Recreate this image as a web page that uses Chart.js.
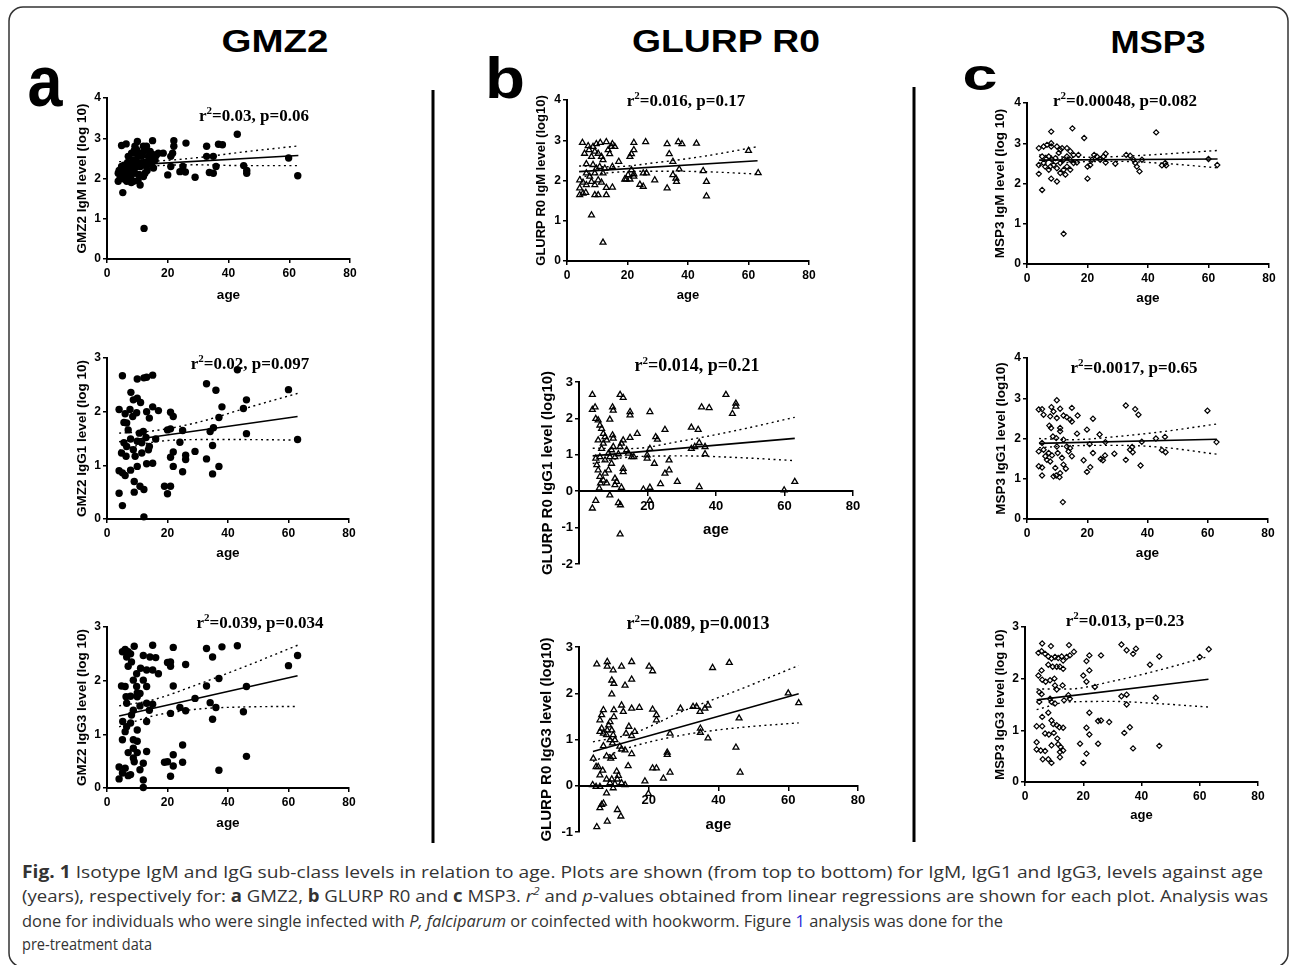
<!DOCTYPE html>
<html>
<head>
<meta charset="utf-8">
<script src="https://cdn.jsdelivr.net/npm/chart.js@4.4.1/dist/chart.umd.min.js"></script>
<style>
	body { margin: 0; background: #fff; width: 1292px; height: 965px; position: relative; overflow: hidden; }
	canvas { position: absolute; }
	svg { position: absolute; left: 0; top: 0; }
	.cap { font-family: 'Open Sans', sans-serif; font-size: 17px; fill: #333; }
</style>
</head>
<body>
<svg width="1292" height="965">
	<rect x="9" y="7" width="1279" height="960" rx="14" fill="none" stroke="#333" stroke-width="1.5"/>
	<g font-family="Liberation Sans, Arial, sans-serif" font-weight="bold" fill="#000" text-anchor="middle">
		<text x="275" y="52" font-size="31" textLength="107" lengthAdjust="spacingAndGlyphs">GMZ2</text>
		<text x="726" y="52" font-size="31" textLength="188" lengthAdjust="spacingAndGlyphs">GLURP R0</text>
		<text x="1158" y="53" font-size="31" textLength="95" lengthAdjust="spacingAndGlyphs">MSP3</text>
		<text x="45" y="106" font-size="72" textLength="35" lengthAdjust="spacingAndGlyphs">a</text>
		<text x="505" y="98" font-size="57" textLength="40" lengthAdjust="spacingAndGlyphs">b</text>
		<text x="980" y="90" font-size="44" textLength="35" lengthAdjust="spacingAndGlyphs">c</text>
	</g>
	<rect x="431.5" y="90" width="3" height="753" fill="#000"/>
	<rect x="912.5" y="87" width="3" height="755" fill="#000"/>
	<text class="cap" x="22" y="878" textLength="1241" lengthAdjust="spacingAndGlyphs"><tspan font-weight="bold">Fig. 1</tspan> Isotype IgM and IgG sub-class levels in relation to age. Plots are shown (from top to bottom) for IgM, IgG1 and IgG3, levels against age</text>
	<text class="cap" x="22" y="902" textLength="1246" lengthAdjust="spacingAndGlyphs">(years), respectively for: <tspan font-weight="bold">a</tspan> GMZ2, <tspan font-weight="bold">b</tspan> GLURP R0 and <tspan font-weight="bold">c</tspan> MSP3. <tspan font-style="italic">r</tspan><tspan font-style="italic" font-size="11" dy="-7">2</tspan><tspan dy="7"> and </tspan><tspan font-style="italic">p</tspan>-values obtained from linear regressions are shown for each plot. Analysis was</text>
	<text class="cap" x="22" y="927" textLength="981" lengthAdjust="spacingAndGlyphs">done for individuals who were single infected with <tspan font-style="italic">P, falciparum</tspan> or coinfected with hookworm. Figure <tspan fill="#2b2bd8">1</tspan> analysis was done for the</text>
	<text class="cap" x="22" y="950" textLength="130" lengthAdjust="spacingAndGlyphs">pre-treatment data</text>
</svg>
<script>
const xTicks = [0, 20, 40, 60, 80];
const fitAges = [4, 63];
const bandAges = [4, 15, 30, 45, 63];

// a: GMZ2
const gmz2IgM = [[5.2,1.65],[12.2,0.76],[4.8,2.82],[6.3,2.86],[10,2.92],[15,2.94],[22,2.94],[22,2.8],[26,2.88],[32.8,2.8],[42.9,3.1],[36.7,2.85],[38,2.84],[32.8,2.55],[35,2.55],[35.9,2.3],[35,2.13],[33.7,2.15],[45,2.32],[46,2.13],[46,2.2],[59.8,2.51],[62.8,2.07],[29,2.03],[20,2.09],[24,2.17],[25.8,2.16],[25,2.3],[21,2.3],[21,2.55],[21.6,2.63],[18.5,2.63],[16.9,2.63],[3.7,2.13],[3.7,1.93],[4.3,2.0],[5.6,2.2],[5.6,2.33],[7,2.05],[7.6,2.3],[8.1,2.63],[8.7,2.46],[8.7,1.93],[9.2,2.13],[9.8,2.3],[9.8,2.71],[10.9,1.84],[10.9,2.38],[11.4,2.55],[12,2.8],[12.5,2.13],[13,2.3],[13.6,2.55],[14.2,2.67],[14.7,2.38],[15.3,2.26],[15.8,2.46],[9.2,2.8],[10.3,2.55],[8.1,2.13],[6.5,1.93],[4.8,2.3],[13,2.8],[12,2.05],[4.5,2.08],[5,2.25],[6,2.15],[6.8,2.4],[7.2,2.25],[7.8,2.0],[8.3,2.35],[8.8,2.2],[9.5,2.45],[10,2.6],[10.5,2.1],[11,2.3],[11.8,2.65],[12.3,2.4],[13.2,2.2],[13.8,2.45],[14.5,2.55],[9,2.7],[7,2.55],[5.8,1.98],[4,2.2],[12.8,2.7],[15,2.6],[16.2,2.58],[10.2,1.95],[8,1.9]];
const gmz2IgMFit = [2.32, 2.57];
const gmz2IgMUpper = [2.42, 2.43, 2.52, 2.66, 2.81];
const gmz2IgMLower = [2.22, 2.31, 2.34, 2.32, 2.32];

const gmz2IgG1 = [[5.1,2.67],[10,2.61],[12.2,2.63],[13.1,2.64],[15.1,2.68],[32.9,2.52],[36,2.4],[43.1,2.78],[60,2.41],[46.1,2.22],[45.1,2.06],[38,2.09],[37,1.89],[35.2,1.7],[34.1,1.63],[46.1,1.59],[63,1.48],[34.9,1.37],[32.9,1.12],[37,0.98],[34.9,0.84],[29.1,1.26],[26,1.19],[26,1.11],[25,0.88],[21.9,0.98],[21.9,1.25],[21,1.15],[24.1,1.43],[25,1.65],[21,1.68],[20,1.66],[21,1.99],[21.9,1.91],[19,0.61],[20,0.47],[21,0.61],[17,2.02],[16.1,1.49],[15.1,1.04],[15.1,2.09],[12.2,0.04],[12.2,0.55],[10.9,0.61],[9,0.5],[9,0.7],[5.1,0.25],[4,0.48],[4,0.9],[5.1,0.86],[6,0.81],[4,2.04],[7.9,2.36],[10,2.25],[11.1,2.17],[6.5,1.79],[6,1.96],[8.5,1.91],[9.8,1.98],[14,1.88],[13.1,2.0],[4.8,1.23],[5.6,1.42],[6.5,1.35],[7,1.66],[7.8,1.49],[8.7,1.29],[9.3,1.17],[10,0.98],[10,1.45],[10.7,1.6],[11.5,1.42],[12,1.63],[12.9,1.52],[13.7,1.29],[13.1,1.03],[7.8,0.91],[6.3,1.17],[5.6,1.8],[11.5,1.23],[14,1.35],[8.7,2.22],[7.6,2.04]];
const gmz2IgG1Fit = [1.44, 1.91];
const gmz2IgG1Upper = [1.6, 1.64, 1.8, 2.05, 2.34];
const gmz2IgG1Lower = [1.28, 1.43, 1.48, 1.48, 1.47];

const gmz2IgG3 = [[5.1,2.54],[6,2.58],[7,2.54],[9,2.64],[7.8,2.5],[6.5,2.44],[12,2.47],[15.1,2.66],[14.2,2.44],[16.1,2.43],[20,2.34],[21,2.35],[21.9,2.62],[21,2.27],[26,2.3],[32.9,2.6],[34.9,2.44],[38,2.63],[43.1,2.65],[60,2.28],[63,2.47],[37,2.04],[46.1,1.89],[32.9,1.9],[29.1,1.67],[21.9,1.9],[24.1,1.5],[26,1.44],[21,1.39],[34.1,1.59],[36,1.5],[34.9,1.28],[45.1,1.42],[37,0.33],[46.1,0.59],[25,0.8],[25,0.48],[21.9,0.62],[21.9,0.41],[21,0.22],[20,0.49],[19,0.48],[15.1,1.56],[14,1.45],[13.1,1.24],[13.1,1.58],[13.1,1.89],[12,2.01],[13.1,2.2],[15.1,2.2],[17,2.13],[11.1,2.23],[9.8,2.13],[8.7,2.01],[9.8,1.89],[10.9,1.76],[7,2.27],[8.1,2.35],[6,1.89],[4.8,1.9],[6.3,1.7],[7.8,1.71],[10,1.7],[10.9,1.53],[8.7,1.45],[6.5,1.58],[5.2,1.24],[6,1.05],[6.5,1.14],[7.8,1.21],[8.1,1.36],[10,1.08],[5.1,0.9],[8.7,0.9],[10,0.87],[7,0.66],[8.7,0.74],[10,0.66],[13.1,0.68],[8.7,0.56],[9,0.49],[12,0.46],[10.9,0.34],[4,0.39],[4,0.17],[5.1,0.28],[6,0.37],[7,0.23],[7.8,0.25],[12,0.15],[12,0.01],[10,1.77]];
const gmz2IgG3Fit = [1.34, 2.09];
const gmz2IgG3Upper = [1.53, 1.64, 1.93, 2.25, 2.66];
const gmz2IgG3Lower = [1.14, 1.34, 1.47, 1.51, 1.52];

// b: GLURP R0
const glurpIgM = [[5.1,2.94],[7,2.86],[8.6,2.84],[9.7,2.91],[11,2.94],[13,2.96],[15,2.91],[15.8,2.84],[22.1,2.94],[26,2.96],[33.1,2.91],[36.8,2.96],[38,2.91],[42.8,2.92],[60,2.74],[63.2,2.19],[45,2.24],[46.1,1.97],[46.1,1.61],[37.1,2.28],[36,2.05],[35,2.14],[36.2,1.97],[35,2.47],[33.8,2.66],[33.1,1.81],[29,2.01],[26.3,2.18],[25.2,2.18],[25.2,1.85],[24.1,1.9],[22.1,2.16],[21.3,2.26],[20.8,2.59],[21.3,2.66],[22.1,2.76],[22.1,2.1],[19.1,2.03],[19.6,2.03],[20.2,2.14],[20.8,2.03],[17.1,2.47],[15,2.34],[15,1.83],[13,1.82],[13,1.64],[10.3,1.64],[9.2,1.64],[8.1,1.14],[11.9,0.46],[4.2,1.64],[5.3,1.68],[6.2,1.7],[4.2,1.81],[5.3,1.95],[6.4,1.89],[4.2,2.01],[5.8,2.67],[7.3,2.76],[8.1,2.59],[9.2,2.72],[10.3,2.67],[11.4,2.59],[11.9,2.51],[14.1,2.66],[14.7,2.84],[13.6,2.76],[8.6,2.39],[9.7,2.3],[10.8,2.34],[9.2,2.18],[7.5,2.1],[6.4,2.18],[8.1,1.97],[10.3,2.01],[11.9,2.18],[11.4,1.95],[9.2,1.89],[6.4,2.41],[12.5,2.3]];
const glurpIgMFit = [2.22, 2.49];
const glurpIgMUpper = [2.36, 2.34, 2.45, 2.6, 2.84];
const glurpIgMLower = [2.08, 2.2, 2.23, 2.22, 2.16];

const glurpIgG1 = [[3.9,2.65],[3.9,2.24],[4.7,2.31],[4.9,1.99],[5.6,1.95],[6.1,1.81],[6.6,1.72],[7.1,1.58],[7.6,1.49],[8.1,1.4],[9,1.97],[9.8,2.31],[10,2.22],[9.8,1.54],[10,1.45],[12,2.65],[12.9,2.57],[14.9,2.18],[14.9,2.09],[17,1.58],[14.9,1.47],[20.7,2.18],[25.1,1.69],[22.4,1.49],[22.9,1.42],[32.8,1.75],[34.8,1.69],[35.8,2.31],[38,2.29],[42.9,2.65],[44.8,2.13],[45.8,2.33],[45.8,2.41],[35.1,1.33],[33.8,1.22],[32.8,1.17],[36.8,1.22],[36.8,1.02],[63,0.26],[59.9,0.03],[35.1,0.12],[28.7,0.26],[23.8,0.2],[26.3,0.58],[25.1,0.49],[26.3,0.85],[22,0.76],[20.7,1.17],[19.9,0.99],[19.9,0.9],[20.7,0.1],[20.7,-0.26],[18.8,0.05],[12.4,0.1],[11.5,-0.32],[12.1,-0.38],[12,-1.18],[9,-0.11],[3.9,-0.47],[4.9,-0.26],[5.9,0.08],[5.2,0.72],[4.9,0.9],[5.6,0.58],[6.1,0.4],[6.3,0.22],[7.1,0.3],[8.1,0.22],[7.6,0.49],[8.6,0.58],[9,0.94],[9.5,0.76],[9.5,1.13],[10,1.22],[10.5,0.94],[10.5,0.35],[11,0.26],[11.5,1.02],[12,1.22],[12.4,1.31],[12.9,1.4],[12.9,0.62],[12.9,0.53],[13.9,1.13],[14.4,1.04],[15.4,0.94],[16,0.94],[8.6,1.04],[7.6,0.85],[6.6,1.17],[5.6,1.4],[7.1,1.31],[6.1,0.94],[10.5,0.17]];
const glurpIgG1Fit = [0.97, 1.45];
const glurpIgG1Upper = [1.18, 1.17, 1.38, 1.65, 2.03];
const glurpIgG1Lower = [0.76, 0.94, 0.97, 0.93, 0.84];

const glurpIgG3 = [[5.1,2.63],[8.1,2.68],[8.1,2.58],[9.8,2.5],[12.2,2.58],[15.1,2.68],[13.2,2.17],[15.1,2.3],[9.4,2.28],[10,2.21],[9.4,1.98],[20.1,2.58],[21.1,2.48],[38.3,2.55],[43.1,2.66],[60,2.0],[63,1.79],[45.9,1.46],[45,0.83],[46.2,0.29],[37,1.03],[34.8,1.24],[34.8,1.15],[36.1,1.67],[37,1.74],[32.7,1.71],[33.7,1.71],[34.7,1.6],[29.1,1.67],[26.1,1.13],[25.3,0.72],[25.3,0.67],[26.1,0.29],[24.2,0.16],[21.1,0.38],[22.2,0.38],[21.1,1.65],[22.2,1.53],[22.2,1.42],[18.9,0.1],[19.9,-0.17],[17.3,1.69],[15.1,1.67],[13.5,1.13],[14.3,1.28],[16,1.17],[15.1,1.08],[15.1,0.69],[14.1,0.43],[12.2,1.74],[12.7,1.6],[11.7,0.85],[12.2,0.79],[13.2,0.77],[10,1.64],[10,1.49],[8.9,1.38],[8.5,1.31],[8.1,1.2],[9.4,1.2],[9.8,1.1],[10.3,0.99],[8.9,0.99],[9.6,0.92],[7,1.64],[6.5,1.53],[6,1.42],[6.5,1.24],[6,1.17],[7,1.13],[7.9,1.1],[7,0.86],[4.1,0.59],[4.9,0.41],[5.5,0.41],[6,0.23],[6.8,0.33],[7.9,0.64],[9.1,0.59],[9.8,0.63],[10.8,0.31],[11.3,0.22],[11,0.14],[9.4,0.14],[7.9,0.14],[8.9,0.06],[9.8,-0.05],[12.2,0.06],[13.2,0.02],[3.9,0.02],[4.9,-0.02],[6,-0.02],[7.9,-0.16],[7,-0.38],[6,-0.48],[6.5,-0.41],[8.1,-0.77],[5.1,-0.89],[11,-0.52],[12,-0.66],[10.3,0.04]];
const glurpIgG3Fit = [0.74, 1.99];
const glurpIgG3Upper = [0.95, 1.12, 1.62, 2.05, 2.6];
const glurpIgG3Lower = [0.53, 0.84, 1.1, 1.25, 1.36];

// c: MSP3
const msp3IgM = [[5,1.84],[12.1,0.75],[8,3.29],[15,3.37],[18.9,3.13],[42.7,3.27],[8,3.0],[8,2.92],[5.5,2.92],[6.6,2.96],[3.9,2.88],[3.9,2.46],[3.9,2.24],[5,2.67],[6.4,2.61],[7.2,2.34],[8,2.12],[9.9,2.05],[11,2.26],[20,2.12],[20,2.42],[20.9,2.46],[21.5,2.59],[22.2,2.71],[23.1,2.67],[25.3,2.67],[26,2.74],[26,2.52],[24.2,2.59],[29.2,2.49],[32.8,2.71],[34.1,2.69],[35.2,2.59],[35.8,2.51],[36.3,2.42],[37.2,2.3],[38,2.59],[44.6,2.45],[45.7,2.51],[46,2.45],[60,2.61],[62.9,2.46],[9.9,2.92],[11.6,2.88],[13.2,2.88],[14.3,2.8],[15.4,2.71],[17,2.71],[13.2,2.67],[14.3,2.59],[15.4,2.51],[12.1,2.59],[11,2.51],[9.4,2.63],[8.8,2.46],[8.3,2.59],[7.2,2.67],[6,2.42],[5.5,2.51],[7.7,2.42],[9.9,2.38],[12.1,2.34],[13.2,2.42],[14.3,2.34],[16.5,2.52],[10.5,2.76],[12.7,2.22],[11,2.84]];
const msp3IgMFit = [2.58, 2.61];
const msp3IgMUpper = [2.71, 2.65, 2.67, 2.73, 2.82];
const msp3IgMLower = [2.45, 2.53, 2.55, 2.5, 2.39];

const msp3IgG1 = [[11.9,0.42],[5,2.73],[3.9,2.72],[5.5,2.59],[8.1,2.78],[9.9,2.95],[11,2.74],[12.1,2.57],[14.3,2.47],[14.9,2.76],[16.8,2.57],[7.7,2.55],[8.8,2.67],[9.9,2.51],[13.2,2.53],[14.9,2.42],[7.4,2.32],[8,2.26],[11,2.26],[11,2.18],[16.6,2.12],[19.9,2.22],[21.9,2.49],[24.1,2.1],[32.8,2.82],[35.9,2.73],[37,2.59],[59.9,2.69],[62.9,1.91],[42.8,2.0],[45.8,2.04],[44.8,1.71],[46,1.66],[38.1,1.92],[37.7,1.33],[34.9,1.79],[34.2,1.72],[35.1,1.66],[32.8,1.47],[29,1.62],[26,1.91],[25.9,1.58],[25.2,1.46],[24.5,1.49],[21.9,1.64],[21,1.29],[19.9,1.17],[18.8,1.46],[20.8,1.86],[14.9,1.56],[12.9,1.25],[11,1.14],[10.8,1.04],[9.7,1.08],[8.8,1.06],[5,1.08],[3.9,1.31],[5,1.28],[3.9,1.68],[5,1.89],[5.5,1.72],[6.1,1.56],[6.6,1.47],[7.2,1.64],[8.3,1.58],[9.4,1.27],[9.7,2.01],[9.9,1.8],[10.2,1.64],[11.6,1.52],[12.1,1.35],[13.2,1.8],[13.8,1.68],[14.3,1.76],[8.6,2.05],[12.1,1.97],[7.7,1.43]];
const msp3IgG1Fit = [1.88, 1.98];
const msp3IgG1Upper = [2.0, 1.97, 2.05, 2.17, 2.36];
const msp3IgG1Lower = [1.77, 1.82, 1.83, 1.78, 1.61];

const msp3IgG3 = [[5.9,2.68],[8.9,2.63],[15.1,2.65],[33.1,2.66],[34.9,2.55],[37.1,2.48],[38.1,2.58],[60,2.42],[63.1,2.57],[46.1,2.43],[42.9,2.27],[26.1,2.45],[22.1,2.45],[21.1,2.34],[22.1,2.16],[20,2.06],[21.1,1.94],[24,1.84],[4.6,2.5],[5.7,2.53],[6.9,2.48],[8,2.43],[9.1,2.39],[10.3,2.42],[11.4,2.4],[12.6,2.43],[13.1,2.35],[14.3,2.42],[15.4,2.45],[16.8,2.52],[8,2.27],[9.5,2.23],[10.9,2.23],[12,2.23],[13.1,2.19],[5.7,2.16],[4.6,2.06],[5.9,1.98],[7.1,1.94],[8.6,1.97],[10.1,2.0],[10.3,1.87],[10.9,1.79],[12.9,1.87],[13.4,1.58],[15.4,1.61],[14.9,1.68],[4.9,1.74],[5.7,1.7],[4.9,1.55],[8.6,1.61],[9.1,1.55],[10.3,1.52],[8,1.34],[5.9,1.26],[9.1,1.19],[9.7,1.12],[10.9,1.1],[11.8,1.06],[13.1,1.05],[4,1.08],[5.9,1.08],[6.9,0.94],[8.2,0.92],[9.9,0.95],[11.1,0.84],[9.1,0.71],[11.4,0.73],[12.2,0.68],[4,0.77],[4,0.63],[5.4,0.61],[6.9,0.6],[12,0.58],[13.1,0.61],[6.1,0.44],[8,0.44],[9.1,0.37],[12,0.48],[20,0.37],[21.1,0.55],[18.9,0.74],[22.1,0.92],[21.1,1.05],[22.1,1.34],[25.1,0.74],[25.1,1.18],[26.1,1.19],[28.9,1.16],[33.1,1.66],[34.9,1.69],[34.9,1.5],[34.1,0.95],[36,1.06],[37.1,0.65],[44.9,1.63],[46.1,0.7]];
const msp3IgG3Fit = [1.59, 1.99];
const msp3IgG3Upper = [1.8, 1.8, 1.95, 2.15, 2.43];
const msp3IgG3Lower = [1.4, 1.55, 1.56, 1.52, 1.45];

// area = [left, top, right, bottom] of the plot box on the page
// tfs = axis title font size, kfs = tick font size
const panels = [
	{ pts: gmz2IgM, fit: gmz2IgMFit, up: gmz2IgMUpper, lo: gmz2IgMLower, stat: ['0.03', '0.06'], ytitle: 'GMZ2 IgM level (log 10)', ymin: 0, ymax: 4, marker: 'circle', area: [107, 98, 350, 259], statXY: [254, 115], ageY: 295, gap: 25, tfs: 13.5, kfs: 12, zero: false },
	{ pts: gmz2IgG1, fit: gmz2IgG1Fit, up: gmz2IgG1Upper, lo: gmz2IgG1Lower, stat: ['0.02', '0.097'], ytitle: 'GMZ2 IgG1 level (log 10)', ymin: 0, ymax: 3, marker: 'circle', area: [107, 358, 349, 519], statXY: [250, 363], ageY: 553, gap: 25, tfs: 13.5, kfs: 12, zero: false },
	{ pts: gmz2IgG3, fit: gmz2IgG3Fit, up: gmz2IgG3Upper, lo: gmz2IgG3Lower, stat: ['0.039', '0.034'], ytitle: 'GMZ2 IgG3 level (log 10)', ymin: 0, ymax: 3, marker: 'circle', area: [107, 627, 349, 788], statXY: [260, 622], ageY: 823, gap: 25, tfs: 13.5, kfs: 12, zero: false },
	{ pts: glurpIgM, fit: glurpIgMFit, up: glurpIgMUpper, lo: glurpIgMLower, stat: ['0.016', '0.17'], ytitle: 'GLURP R0 IgM level (log10)', ymin: 0, ymax: 4, marker: 'triangle', area: [567, 100, 809, 261], statXY: [686, 100], ageY: 295, gap: 25, tfs: 13, kfs: 12, zero: false },
	{ pts: glurpIgG1, fit: glurpIgG1Fit, up: glurpIgG1Upper, lo: glurpIgG1Lower, stat: ['0.014', '0.21'], ytitle: 'GLURP R0 IgG1 level (log10)', ymin: -2, ymax: 3, marker: 'triangle', area: [579, 382, 853, 564], statXY: [697, 365], ageY: 530, gap: 31, tfs: 15, kfs: 13, zero: true },
	{ pts: glurpIgG3, fit: glurpIgG3Fit, up: glurpIgG3Upper, lo: glurpIgG3Lower, stat: ['0.089', '0.0013'], ytitle: 'GLURP R0 IgG3 level (log10)', ymin: -1, ymax: 3, marker: 'triangle', area: [579, 647, 858, 832], statXY: [698, 623], ageY: 825, gap: 32, tfs: 15, kfs: 13, zero: true },
	{ pts: msp3IgM, fit: msp3IgMFit, up: msp3IgMUpper, lo: msp3IgMLower, stat: ['0.00048', '0.082'], ytitle: 'MSP3 IgM level (log 10)', ymin: 0, ymax: 4, marker: 'rectRot', area: [1027, 103, 1269, 264], statXY: [1125, 100], ageY: 298, gap: 27, tfs: 13.5, kfs: 12, zero: false },
	{ pts: msp3IgG1, fit: msp3IgG1Fit, up: msp3IgG1Upper, lo: msp3IgG1Lower, stat: ['0.0017', '0.65'], ytitle: 'MSP3 IgG1 level (log10)', ymin: 0, ymax: 4, marker: 'rectRot', area: [1027, 358, 1268, 519], statXY: [1134, 367], ageY: 553, gap: 26, tfs: 13.5, kfs: 12, zero: false },
	{ pts: msp3IgG3, fit: msp3IgG3Fit, up: msp3IgG3Upper, lo: msp3IgG3Lower, stat: ['0.013', '0.23'], ytitle: 'MSP3 IgG3 level (log 10)', ymin: 0, ymax: 3, marker: 'rectRot', area: [1025, 627, 1258, 782], statXY: [1125, 620], ageY: 815, gap: 24, tfs: 13, kfs: 12, zero: false },
];

const markers = {
	circle: { pointStyle: 'circle', pointRadius: 3.7, pointBackgroundColor: '#000', pointBorderWidth: 0 },
	triangle: { pointStyle: 'triangle', pointRadius: 3.4, pointBackgroundColor: 'rgba(0,0,0,0)', pointBorderColor: '#000', pointBorderWidth: 1.3 },
	rectRot: { pointStyle: 'rectRot', pointRadius: 2.6, pointBackgroundColor: 'rgba(0,0,0,0)', pointBorderColor: '#000', pointBorderWidth: 1.2 },
};

// r² / p label drawn above each plot
const statLabel = {
	id: 'statLabel',
	afterDraw(chart, args, opts) {
		const ctx = chart.ctx;
		const big = `bold ${opts.size}px "Liberation Serif", "Times New Roman", serif`;
		const small = `bold ${Math.round(opts.size * 0.62)}px "Liberation Serif", "Times New Roman", serif`;
		const rest = `=${opts.values[0]}, p=${opts.values[1]}`;
		ctx.save();
		ctx.fillStyle = '#000';
		ctx.textBaseline = 'alphabetic';
		ctx.font = big;
		const wR = ctx.measureText('r').width;
		const wRest = ctx.measureText(rest).width;
		ctx.font = small;
		const w2 = ctx.measureText('2').width;
		let x = opts.x - (wR + w2 + wRest) / 2;
		const y = opts.y + opts.size * 0.34;
		ctx.font = big;
		ctx.fillText('r', x, y);
		x += wR;
		ctx.font = small;
		ctx.fillText('2', x, y - opts.size * 0.42);
		x += w2;
		ctx.font = big;
		ctx.fillText(rest, x, y);
		ctx.restore();
	},
};

function toXY(ages, values) {
	return ages.map((a, i) => ({ x: a, y: values[i] }));
}

function createPanel(p) {
	const [x0, y0, x1, y1] = p.area;
	const lh = p.tfs * 1.2;
	const left = Math.round(x0 - p.gap - lh / 2);
	const top = y0 - 40;
	const zeroPix = p.zero ? y0 + (p.ymax / (p.ymax - p.ymin)) * (y1 - y0) : y1;
	const bottom = Math.round(y1 + (p.ageY - zeroPix + lh / 2));
	const right = x1 + 15;
	const yAxisW = x0 - left;
	const xAxisH = bottom - y1;

	const canvas = document.createElement('canvas');
	canvas.width = right - left;
	canvas.height = bottom - top;
	canvas.style.left = left + 'px';
	canvas.style.top = top + 'px';
	document.body.appendChild(canvas);

	const titleFont = { family: 'Liberation Sans, Arial, sans-serif', weight: 'bold', size: p.tfs, lineHeight: 1.2 };
	const tickFont = { family: 'Liberation Sans, Arial, sans-serif', weight: 'bold', size: p.kfs };
	const lineBase = { type: 'line', borderColor: '#000', pointRadius: 0, fill: false };

	new Chart(canvas.getContext('2d'), {
		type: 'scatter',
		data: {
			datasets: [
				{ ...lineBase, data: toXY(fitAges, p.fit), borderWidth: 1.6 },
				{ ...lineBase, data: toXY(bandAges, p.up), borderWidth: 1.4, borderDash: [2, 3.5], cubicInterpolationMode: 'monotone' },
				{ ...lineBase, data: toXY(bandAges, p.lo), borderWidth: 1.4, borderDash: [2, 3.5], cubicInterpolationMode: 'monotone' },
				{ data: p.pts.map(([x, y]) => ({ x, y })), clip: false, ...markers[p.marker] },
			],
		},
		options: {
			responsive: false,
			animation: false,
			devicePixelRatio: 1,
			// an x axis placed at y=0 takes no room of its own, so pad for it
			layout: { padding: { top: y0 - top, right: right - x1, left: 0, bottom: p.zero ? xAxisH : 0 } },
			plugins: {
				legend: { display: false },
				tooltip: { enabled: false },
				statLabel: { values: p.stat, x: p.statXY[0] - left, y: p.statXY[1] - top, size: p.zero ? 18 : 17 },
			},
			scales: {
				x: {
					type: 'linear',
					min: 0,
					max: 80,
					position: p.zero ? { y: 0 } : 'bottom',
					afterFit: (s) => { s.height = xAxisH; },
					afterBuildTicks: (s) => { s.ticks = xTicks.map((v) => ({ value: v })); },
					ticks: { font: tickFont, color: '#000', padding: 3, maxRotation: 0, autoSkip: false, callback: (v) => (p.zero && v === 0 ? '' : v) },
					grid: { drawOnChartArea: false, drawTicks: true, tickLength: 4, lineWidth: 1.5, color: (c) => (p.zero && c.tick && c.tick.value === 0 ? 'rgba(0,0,0,0)' : '#000') },
					border: { color: '#000', width: 2 },
					title: { display: true, text: 'age', font: titleFont, color: '#000', padding: 0 },
				},
				y: {
					type: 'linear',
					min: p.ymin,
					max: p.ymax,
					afterFit: (s) => { s.width = yAxisW; },
					ticks: { stepSize: 1, font: tickFont, color: '#000', padding: 2 },
					grid: { drawOnChartArea: false, drawTicks: true, tickLength: 4, lineWidth: 1.5, color: '#000' },
					border: { color: '#000', width: 2 },
					title: { display: true, text: p.ytitle, font: titleFont, color: '#000', padding: 0 },
				},
			},
		},
		plugins: [statLabel],
	});
}

panels.forEach(createPanel);
</script>
</body>
</html>
